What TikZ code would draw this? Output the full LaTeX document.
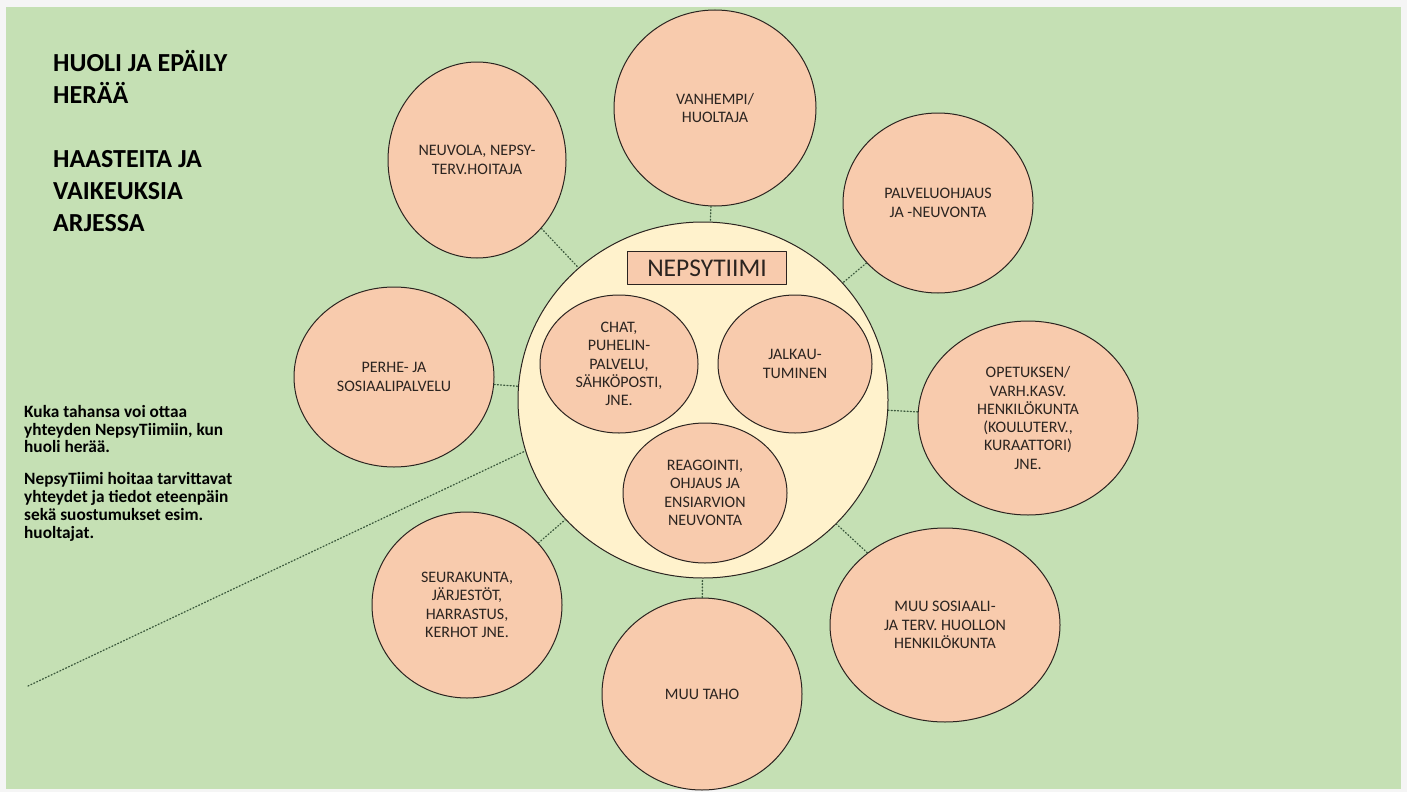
\documentclass[tikz,border=0pt]{standalone}
\usepackage{fontspec}
\setmainfont{Carlito}
\usetikzlibrary{shapes.geometric}
\definecolor{meadow}{HTML}{C5E0B4}
\definecolor{peach}{HTML}{F8CBAD}
\definecolor{cream}{HTML}{FFF2CC}
\definecolor{ink}{HTML}{2B2420}
\definecolor{dotline}{HTML}{3D5A3D}
\begin{document}
\begin{tikzpicture}[
	x=1pt,
	y=-1pt,
	line join=round,
	line cap=round,
	bubble/.style={ellipse, draw=ink, line width=1pt, fill=peach, inner sep=0pt,
		align=center, text=ink, font=\fontsize{16}{18.3}\selectfont},
	dots/.style={draw=dotline, line width=1.3pt, dash pattern=on 1pt off 2.2pt},
	]
\useasboundingbox (0,0) rectangle (1407,792);
\fill[gray!8] (0,0) rectangle (1407,792);
\fill[meadow] (6,7) rectangle (1401,789);
% texts on the left
\node[anchor=base west, inner sep=0pt, align=left, font=\fontsize{26}{32}\selectfont\bfseries] (otsikko) at (53,231)
	{HUOLI JA EPÄILY\\HERÄÄ\\[32pt]HAASTEITA JA\\VAIKEUKSIA\\ARJESSA};
\node[anchor=base west, inner sep=0pt, align=left, font=\fontsize{17.3}{17.8}\selectfont\bfseries] (ohje) at (24,538)
	{Kuka tahansa voi ottaa\\yhteyden NepsyTiimiin, kun\\huoli herää.\\[14pt]NepsyTiimi hoitaa tarvittavat\\yhteydet ja tiedot eteenpäin\\sekä suostumukset esim.\\huoltajat.};
% the team in the middle
\node[ellipse, draw=ink, line width=1pt, fill=cream, minimum width=370pt, minimum height=356pt] (nepsy) at (703,400) {};
\node[draw=ink, line width=1pt, fill=peach, minimum width=159pt, minimum height=33pt, text=ink,
	font=\fontsize{25.5}{28}\selectfont] (tiimi) at (707,268) {NEPSYTIIMI};
\node[bubble, minimum width=158pt, minimum height=138pt] (chat) at (619,364)
	{CHAT,\\PUHELIN-\\PALVELU,\\SÄHKÖPOSTI,\\JNE.};
\node[bubble, minimum width=154pt, minimum height=138pt] (jalkau) at (795,364)
	{JALKAU-\\TUMINEN};
\node[bubble, minimum width=164pt, minimum height=140pt] (reagointi) at (705,493)
	{REAGOINTI,\\OHJAUS JA\\ENSIARVION\\NEUVONTA};
% the parties round it
\node[bubble, minimum width=178pt, minimum height=196pt] (neuvola) at (477,160)
	{NEUVOLA, NEPSY-\\TERV.HOITAJA};
\node[bubble, minimum width=202pt, minimum height=196pt] (vanhempi) at (715,108)
	{VANHEMPI/\\HUOLTAJA};
\node[bubble, minimum width=190pt, minimum height=180pt] (palvelu) at (938,203)
	{PALVELUOHJAUS\\JA -NEUVONTA};
\node[bubble, minimum width=220pt, minimum height=194pt] (opetus) at (1028,418)
	{OPETUKSEN/\\VARH.KASV.\\HENKILÖKUNTA\\(KOULUTERV.,\\KURAATTORI)\\JNE.};
\node[bubble, minimum width=230pt, minimum height=194pt] (sosiaali) at (945,625)
	{MUU SOSIAALI-\\JA TERV. HUOLLON\\HENKILÖKUNTA};
\node[bubble, minimum width=200pt, minimum height=192pt] (muutaho) at (702,694)
	{MUU TAHO};
\node[bubble, minimum width=190pt, minimum height=186pt] (seura) at (467,605)
	{SEURAKUNTA,\\JÄRJESTÖT,\\HARRASTUS,\\KERHOT JNE.};
\node[bubble, minimum width=200pt, minimum height=180pt] (perhe) at (394,377)
	{PERHE- JA\\SOSIAALIPALVELU};
\foreach \n in {neuvola, vanhempi, palvelu, opetus, sosiaali, muutaho, seura, perhe}
	\draw[dots] (\n) -- (nepsy);
\coordinate (kuka) at (28,686);
\draw[dots] (kuka) -- (nepsy.196);
\end{tikzpicture}
\end{document}
